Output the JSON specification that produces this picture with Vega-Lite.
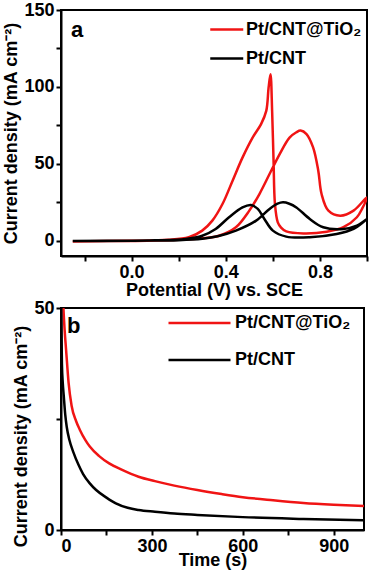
{
  "$schema": "https://vega.github.io/schema/vega-lite/v6.json",
  "padding": {"left": 1, "top": 0, "right": 2, "bottom": 0},
  "spacing": -2,
  "config": {
    "font": "Liberation Sans",
    "view": {"stroke": "black", "strokeWidth": 2},
    "axis": {
      "grid": false,
      "domainColor": "black",
      "domainWidth": 2,
      "tickColor": "black",
      "tickWidth": 2,
      "tickSize": 5,
      "labelColor": "black",
      "labelFont": "Liberation Sans",
      "labelFontSize": 18,
      "labelFontWeight": "bold",
      "labelPadding": 2,
      "titleColor": "black",
      "titleFont": "Liberation Sans",
      "titleFontSize": 18,
      "titleFontWeight": "bold"
    },
    "legend": {
      "symbolType": "M-1,0H3",
      "symbolStrokeWidth": 2.5,
      "symbolFillColor": "transparent",
      "labelFont": "Liberation Sans",
      "labelFontSize": 18,
      "labelFontWeight": "bold",
      "labelColor": "black",
      "padding": 0
    }
  },
  "datasets": {
    "cv": [
      {"s": "Pt/CNT@TiO₂", "o": 1, "x": -0.25, "y": -0.5},
      {"s": "Pt/CNT@TiO₂", "o": 2, "x": -0.1, "y": -0.3},
      {"s": "Pt/CNT@TiO₂", "o": 3, "x": 0.0, "y": -0.2},
      {"s": "Pt/CNT@TiO₂", "o": 4, "x": 0.1, "y": 0.0},
      {"s": "Pt/CNT@TiO₂", "o": 5, "x": 0.2, "y": 0.5},
      {"s": "Pt/CNT@TiO₂", "o": 6, "x": 0.3, "y": 1.5},
      {"s": "Pt/CNT@TiO₂", "o": 7, "x": 0.371, "y": 3.2},
      {"s": "Pt/CNT@TiO₂", "o": 8, "x": 0.443, "y": 8.7},
      {"s": "Pt/CNT@TiO₂", "o": 9, "x": 0.5, "y": 19.5},
      {"s": "Pt/CNT@TiO₂", "o": 10, "x": 0.543, "y": 30.3},
      {"s": "Pt/CNT@TiO₂", "o": 11, "x": 0.586, "y": 43.3},
      {"s": "Pt/CNT@TiO₂", "o": 12, "x": 0.629, "y": 56.3},
      {"s": "Pt/CNT@TiO₂", "o": 13, "x": 0.671, "y": 67.0},
      {"s": "Pt/CNT@TiO₂", "o": 14, "x": 0.7, "y": 70.5},
      {"s": "Pt/CNT@TiO₂", "o": 15, "x": 0.718, "y": 71.6},
      {"s": "Pt/CNT@TiO₂", "o": 16, "x": 0.743, "y": 69.3},
      {"s": "Pt/CNT@TiO₂", "o": 17, "x": 0.771, "y": 60.6},
      {"s": "Pt/CNT@TiO₂", "o": 18, "x": 0.793, "y": 45.5},
      {"s": "Pt/CNT@TiO₂", "o": 19, "x": 0.807, "y": 30.3},
      {"s": "Pt/CNT@TiO₂", "o": 20, "x": 0.836, "y": 19.5},
      {"s": "Pt/CNT@TiO₂", "o": 21, "x": 0.886, "y": 16.2},
      {"s": "Pt/CNT@TiO₂", "o": 22, "x": 0.943, "y": 19.5},
      {"s": "Pt/CNT@TiO₂", "o": 23, "x": 1.0, "y": 28.1},
      {"s": "Pt/CNT@TiO₂", "o": 24, "x": 0.98, "y": 21.0},
      {"s": "Pt/CNT@TiO₂", "o": 25, "x": 0.957, "y": 15.2},
      {"s": "Pt/CNT@TiO₂", "o": 26, "x": 0.9, "y": 8.7},
      {"s": "Pt/CNT@TiO₂", "o": 27, "x": 0.829, "y": 5.8},
      {"s": "Pt/CNT@TiO₂", "o": 28, "x": 0.73, "y": 4.7},
      {"s": "Pt/CNT@TiO₂", "o": 29, "x": 0.657, "y": 6.0},
      {"s": "Pt/CNT@TiO₂", "o": 30, "x": 0.635, "y": 8.5},
      {"s": "Pt/CNT@TiO₂", "o": 31, "x": 0.621, "y": 11.9},
      {"s": "Pt/CNT@TiO₂", "o": 32, "x": 0.609, "y": 23.8},
      {"s": "Pt/CNT@TiO₂", "o": 33, "x": 0.603, "y": 52.0},
      {"s": "Pt/CNT@TiO₂", "o": 34, "x": 0.597, "y": 84.0},
      {"s": "Pt/CNT@TiO₂", "o": 35, "x": 0.59, "y": 108.2},
      {"s": "Pt/CNT@TiO₂", "o": 36, "x": 0.582, "y": 99.6},
      {"s": "Pt/CNT@TiO₂", "o": 37, "x": 0.572, "y": 84.4},
      {"s": "Pt/CNT@TiO₂", "o": 38, "x": 0.55, "y": 75.8},
      {"s": "Pt/CNT@TiO₂", "o": 39, "x": 0.514, "y": 67.0},
      {"s": "Pt/CNT@TiO₂", "o": 40, "x": 0.471, "y": 54.0},
      {"s": "Pt/CNT@TiO₂", "o": 41, "x": 0.429, "y": 39.0},
      {"s": "Pt/CNT@TiO₂", "o": 42, "x": 0.386, "y": 23.8},
      {"s": "Pt/CNT@TiO₂", "o": 43, "x": 0.343, "y": 13.0},
      {"s": "Pt/CNT@TiO₂", "o": 44, "x": 0.3, "y": 6.5},
      {"s": "Pt/CNT@TiO₂", "o": 45, "x": 0.243, "y": 2.2},
      {"s": "Pt/CNT@TiO₂", "o": 46, "x": 0.157, "y": 0.5},
      {"s": "Pt/CNT@TiO₂", "o": 47, "x": 0.0, "y": -0.1},
      {"s": "Pt/CNT@TiO₂", "o": 48, "x": -0.25, "y": -0.5},
      {"s": "Pt/CNT", "o": 1, "x": -0.25, "y": -0.3},
      {"s": "Pt/CNT", "o": 2, "x": 0.0, "y": 0.0},
      {"s": "Pt/CNT", "o": 3, "x": 0.2, "y": 0.3},
      {"s": "Pt/CNT", "o": 4, "x": 0.3, "y": 1.2},
      {"s": "Pt/CNT", "o": 5, "x": 0.37, "y": 3.0},
      {"s": "Pt/CNT", "o": 6, "x": 0.443, "y": 6.5},
      {"s": "Pt/CNT", "o": 7, "x": 0.529, "y": 13.0},
      {"s": "Pt/CNT", "o": 8, "x": 0.586, "y": 20.6},
      {"s": "Pt/CNT", "o": 9, "x": 0.62, "y": 24.0},
      {"s": "Pt/CNT", "o": 10, "x": 0.643, "y": 24.9},
      {"s": "Pt/CNT", "o": 11, "x": 0.67, "y": 24.0},
      {"s": "Pt/CNT", "o": 12, "x": 0.7, "y": 21.6},
      {"s": "Pt/CNT", "o": 13, "x": 0.757, "y": 14.1},
      {"s": "Pt/CNT", "o": 14, "x": 0.814, "y": 8.7},
      {"s": "Pt/CNT", "o": 15, "x": 0.9, "y": 7.6},
      {"s": "Pt/CNT", "o": 16, "x": 0.957, "y": 9.7},
      {"s": "Pt/CNT", "o": 17, "x": 1.0, "y": 14.1},
      {"s": "Pt/CNT", "o": 18, "x": 0.943, "y": 7.6},
      {"s": "Pt/CNT", "o": 19, "x": 0.871, "y": 4.3},
      {"s": "Pt/CNT", "o": 20, "x": 0.757, "y": 2.2},
      {"s": "Pt/CNT", "o": 21, "x": 0.657, "y": 2.6},
      {"s": "Pt/CNT", "o": 22, "x": 0.6, "y": 6.5},
      {"s": "Pt/CNT", "o": 23, "x": 0.564, "y": 14.1},
      {"s": "Pt/CNT", "o": 24, "x": 0.536, "y": 20.6},
      {"s": "Pt/CNT", "o": 25, "x": 0.507, "y": 23.2},
      {"s": "Pt/CNT", "o": 26, "x": 0.471, "y": 21.6},
      {"s": "Pt/CNT", "o": 27, "x": 0.414, "y": 15.2},
      {"s": "Pt/CNT", "o": 28, "x": 0.357, "y": 7.6},
      {"s": "Pt/CNT", "o": 29, "x": 0.3, "y": 3.2},
      {"s": "Pt/CNT", "o": 30, "x": 0.229, "y": 1.1},
      {"s": "Pt/CNT", "o": 31, "x": 0.1, "y": 0.2},
      {"s": "Pt/CNT", "o": 32, "x": -0.25, "y": -0.3}
    ],
    "ca": [
      {"s": "Pt/CNT@TiO₂", "t": 3, "y": 60},
      {"s": "Pt/CNT@TiO₂", "t": 8, "y": 50},
      {"s": "Pt/CNT@TiO₂", "t": 12, "y": 45},
      {"s": "Pt/CNT@TiO₂", "t": 17, "y": 40.4},
      {"s": "Pt/CNT@TiO₂", "t": 25, "y": 33.2},
      {"s": "Pt/CNT@TiO₂", "t": 35, "y": 28.0},
      {"s": "Pt/CNT@TiO₂", "t": 50, "y": 24.5},
      {"s": "Pt/CNT@TiO₂", "t": 62, "y": 22.6},
      {"s": "Pt/CNT@TiO₂", "t": 80, "y": 20.3},
      {"s": "Pt/CNT@TiO₂", "t": 95, "y": 18.8},
      {"s": "Pt/CNT@TiO₂", "t": 125, "y": 16.7},
      {"s": "Pt/CNT@TiO₂", "t": 159, "y": 15.0},
      {"s": "Pt/CNT@TiO₂", "t": 200, "y": 13.6},
      {"s": "Pt/CNT@TiO₂", "t": 256, "y": 12.0},
      {"s": "Pt/CNT@TiO₂", "t": 310, "y": 11.0},
      {"s": "Pt/CNT@TiO₂", "t": 374, "y": 10.0},
      {"s": "Pt/CNT@TiO₂", "t": 450, "y": 9.0},
      {"s": "Pt/CNT@TiO₂", "t": 530, "y": 8.1},
      {"s": "Pt/CNT@TiO₂", "t": 600, "y": 7.4},
      {"s": "Pt/CNT@TiO₂", "t": 700, "y": 6.7},
      {"s": "Pt/CNT@TiO₂", "t": 800, "y": 6.1},
      {"s": "Pt/CNT@TiO₂", "t": 900, "y": 5.7},
      {"s": "Pt/CNT@TiO₂", "t": 1000, "y": 5.4},
      {"s": "Pt/CNT", "t": 0, "y": 60},
      {"s": "Pt/CNT", "t": 0.5, "y": 52},
      {"s": "Pt/CNT", "t": 1.5, "y": 45},
      {"s": "Pt/CNT", "t": 3, "y": 37.5},
      {"s": "Pt/CNT", "t": 6, "y": 33},
      {"s": "Pt/CNT", "t": 9, "y": 30.3},
      {"s": "Pt/CNT", "t": 14, "y": 26},
      {"s": "Pt/CNT", "t": 19, "y": 23.2},
      {"s": "Pt/CNT", "t": 28, "y": 20.2},
      {"s": "Pt/CNT", "t": 41, "y": 17.5},
      {"s": "Pt/CNT", "t": 57, "y": 14.8},
      {"s": "Pt/CNT", "t": 73, "y": 12.6},
      {"s": "Pt/CNT", "t": 95, "y": 10.5},
      {"s": "Pt/CNT", "t": 116, "y": 9.0},
      {"s": "Pt/CNT", "t": 150, "y": 7.3},
      {"s": "Pt/CNT", "t": 181, "y": 6.0},
      {"s": "Pt/CNT", "t": 220, "y": 5.0},
      {"s": "Pt/CNT", "t": 256, "y": 4.5},
      {"s": "Pt/CNT", "t": 310, "y": 4.1},
      {"s": "Pt/CNT", "t": 374, "y": 3.7},
      {"s": "Pt/CNT", "t": 450, "y": 3.4},
      {"s": "Pt/CNT", "t": 600, "y": 2.9},
      {"s": "Pt/CNT", "t": 800, "y": 2.5},
      {"s": "Pt/CNT", "t": 1000, "y": 2.2}
    ]
  },
  "vconcat": [
    {
      "width": 306,
      "height": 246,
      "layer": [
        {
          "data": {"name": "cv"},
          "mark": {"type": "line", "strokeWidth": 2.5, "interpolate": "catmull-rom", "clip": true},
          "encoding": {
            "x": {
              "field": "x", "type": "quantitative",
              "scale": {"domain": [-0.3, 1.0], "nice": false, "zero": false},
              "axis": {
                "title": "Potential (V) vs. SCE",
                "values": [-0.2, 0, 0.2, 0.4, 0.6, 0.8, 1.0],
                "format": ".1f",
                "labelExpr": "indexof(['0.0','0.4','0.8'], datum.label) >= 0 ? datum.label : ''",
                "titlePadding": 0
              }
            },
            "y": {
              "field": "y", "type": "quantitative",
              "scale": {"domain": [-10, 150], "nice": false, "zero": false},
              "axis": {
                "title": "Current density (mA cm⁻²)",
                "values": [0, 25, 50, 75, 100, 125, 150],
                "labelExpr": "datum.value % 50 === 0 ? datum.label : ''",
                "titlePadding": 3
              }
            },
            "order": {"field": "o", "type": "quantitative"},
            "color": {
              "field": "s", "type": "nominal",
              "scale": {"domain": ["Pt/CNT@TiO₂", "Pt/CNT"], "range": ["#f01414", "#000000"]},
              "legend": {"title": null, "orient": "none", "legendX": 148, "legendY": 10, "symbolSize": 272, "labelOffset": 18, "rowPadding": 10}
            }
          }
        },
        {
          "data": {"values": [{"label": "a"}]},
          "mark": {"type": "text", "align": "left", "baseline": "alphabetic", "fontSize": 22, "fontWeight": "bold", "color": "black"},
          "encoding": {
            "x": {"datum": -0.258, "type": "quantitative"},
            "y": {"datum": 132.5, "type": "quantitative"},
            "text": {"field": "label"}
          }
        }
      ]
    },
    {
      "width": 303,
      "height": 222,
      "layer": [
        {
          "data": {"name": "ca"},
          "mark": {"type": "line", "strokeWidth": 2.5, "interpolate": "monotone", "clip": true},
          "encoding": {
            "x": {
              "field": "t", "type": "quantitative",
              "scale": {"domain": [0, 1000], "nice": false},
              "axis": {
                "title": "Time (s)",
                "values": [0, 150, 300, 450, 600, 750, 900],
                "labelExpr": "datum.value % 300 === 0 ? datum.label : ''",
                "titlePadding": -4
              }
            },
            "y": {
              "field": "y", "type": "quantitative",
              "scale": {"domain": [0, 50], "nice": false},
              "axis": {
                "title": "Current density (mA cm⁻²)",
                "values": [0, 25, 50],
                "labelExpr": "datum.value % 50 === 0 ? datum.label : ''",
                "titlePadding": 3,
                "titleY": 128
              }
            },
            "color": {
              "field": "s", "type": "nominal",
              "scale": {"domain": ["Pt/CNT@TiO₂", "Pt/CNT"], "range": ["#f01414", "#000000"]},
              "legend": {"title": null, "orient": "none", "legendX": 106, "legendY": -2, "symbolSize": 961, "labelOffset": 34, "rowPadding": 11}
            }
          }
        },
        {
          "data": {"values": [{"label": "b"}]},
          "mark": {"type": "text", "align": "left", "baseline": "alphabetic", "fontSize": 22, "fontWeight": "bold", "color": "black"},
          "encoding": {
            "x": {"datum": 20, "type": "quantitative"},
            "y": {"datum": 44.4, "type": "quantitative"},
            "text": {"field": "label"}
          }
        }
      ]
    }
  ],
  "resolve": {"scale": {"color": "independent"}, "legend": {"color": "independent"}}
}
